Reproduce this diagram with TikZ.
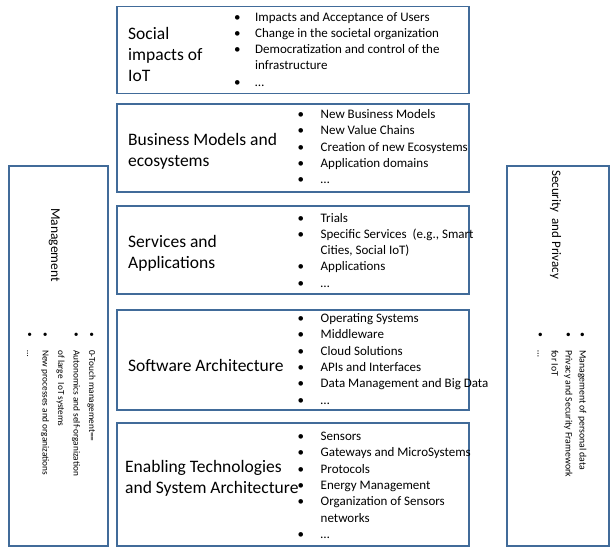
\documentclass[tikz,border=0pt]{standalone}
\usepackage{fontspec}
\setmainfont{Carlito}
\usepackage{array}
\definecolor{bord}{RGB}{65,107,153}
\begin{document}
\begin{tikzpicture}[x=1pt,y=-1pt,
  box/.style={draw=bord, line width=1.8pt, inner sep=0pt, anchor=north west},
  ttl/.style={anchor=base west, inner sep=0pt, font=\fontsize{17.5}{21.2}\selectfont},
  lst/.style={anchor=base west, inner sep=0pt, font=\fontsize{13}{16.3}\selectfont},
  sttl/.style={anchor=base west, inner sep=0pt, rotate=-90, font=\fontsize{13.5}{16}\selectfont},
  slst/.style={anchor=base west, inner sep=0pt, rotate=-90, font=\fontsize{9.3}{15.5}\selectfont},
  rlst/.style={anchor=base west, inner sep=0pt, rotate=-90, font=\fontsize{9.8}{14}\selectfont}]
\useasboundingbox (0,0) rectangle (612,554);
% boxes
\node[box, minimum width=352pt, minimum height=87pt] (b1) at (116,5.5) {};
\node[box, minimum width=352pt, minimum height=88pt] (b2) at (116,103) {};
\node[box, minimum width=352pt, minimum height=88pt] (b3) at (116,205) {};
\node[box, minimum width=352pt, minimum height=100pt] (b4) at (116,309) {};
\node[box, minimum width=352pt, minimum height=123pt] (b5) at (116,422) {};
\node[box, minimum width=99pt, minimum height=380pt] (bl) at (8,165) {};
\node[box, minimum width=102pt, minimum height=380pt] (br) at (506,165) {};
% titles
\node[ttl] (t1) at (128,39.3) {\begin{tabular}[t]{@{}l@{}}Social\\impacts of\\IoT\end{tabular}};
\node[ttl] (t2) at (128,145) {\begin{tabular}[t]{@{}l@{}}Business Models and\\ecosystems\end{tabular}};
\node[ttl] (t3) at (128,247) {\begin{tabular}[t]{@{}l@{}}Services and\\Applications\end{tabular}};
\node[ttl] (t4) at (128,371) {Software Architecture};
\node[ttl] (t5) at (125,472.5) {\begin{tabular}[t]{@{}l@{}}Enabling Technologies\\and System Architecture\end{tabular}};
% lists
\node[lst] (l1) at (234,21) {\begin{tabular}[t]{@{}p{21pt}@{}l@{}}
\textbullet & Impacts and Acceptance of Users\\
\textbullet & Change in the societal organization\\
\textbullet & Democratization and control of the\\
 & infrastructure\\
\textbullet & \dots\end{tabular}};
\node[lst] (l2) at (297.5,118.5) {\begin{tabular}[t]{@{}p{23pt}@{}l@{}}
\textbullet & New Business Models\\
\textbullet & New Value Chains\\
\textbullet & Creation of new Ecosystems\\
\textbullet & Application domains\\
\textbullet & \dots\end{tabular}};
\node[lst] (l3) at (297.5,222) {\begin{tabular}[t]{@{}p{23pt}@{}l@{}}
\textbullet & Trials\\
\textbullet & Specific Services\ \ (e.g., Smart\\
 & Cities, Social IoT)\\
\textbullet & Applications\\
\textbullet & \dots\end{tabular}};
\node[lst] (l4) at (297.5,322.5) {\begin{tabular}[t]{@{}p{23pt}@{}l@{}}
\textbullet & Operating Systems\\
\textbullet & Middleware\\
\textbullet & Cloud Solutions\\
\textbullet & APIs and Interfaces\\
\textbullet & Data Management and Big Data\\
\textbullet & \dots\end{tabular}};
\node[lst] (l5) at (297.5,440.5) {\begin{tabular}[t]{@{}p{23pt}@{}l@{}}
\textbullet & Sensors\\
\textbullet & Gateways and MicroSystems\\
\textbullet & Protocols\\
\textbullet & Energy Management\\
\textbullet & Organization of Sensors\\
 & networks\\
\textbullet & \dots\end{tabular}};
% side boxes
\node[sttl] (tl) at (51,208) {Management};
\node[slst] (ll) at (89,332) {\begin{tabular}[t]{@{}p{18pt}@{}l@{}}
\textbullet & 0-Touch management==\\
\textbullet & Autonomics and self-organization\\
 & of large\ \ IoT systems\\
\textbullet & New processes and organizations\\
\textbullet & \dots\end{tabular}};
\node[sttl, font=\fontsize{13}{16}\selectfont] (tr) at (552,170) {Security\ \ and Privacy};
\node[rlst] (lr) at (579.5,332) {\begin{tabular}[t]{@{}p{18pt}@{}l@{}}
\textbullet & Management of personal data\\
\textbullet & Privacy and Security Framework\\
 & for IoT\\
\textbullet & \dots\end{tabular}};
\end{tikzpicture}
\end{document}
